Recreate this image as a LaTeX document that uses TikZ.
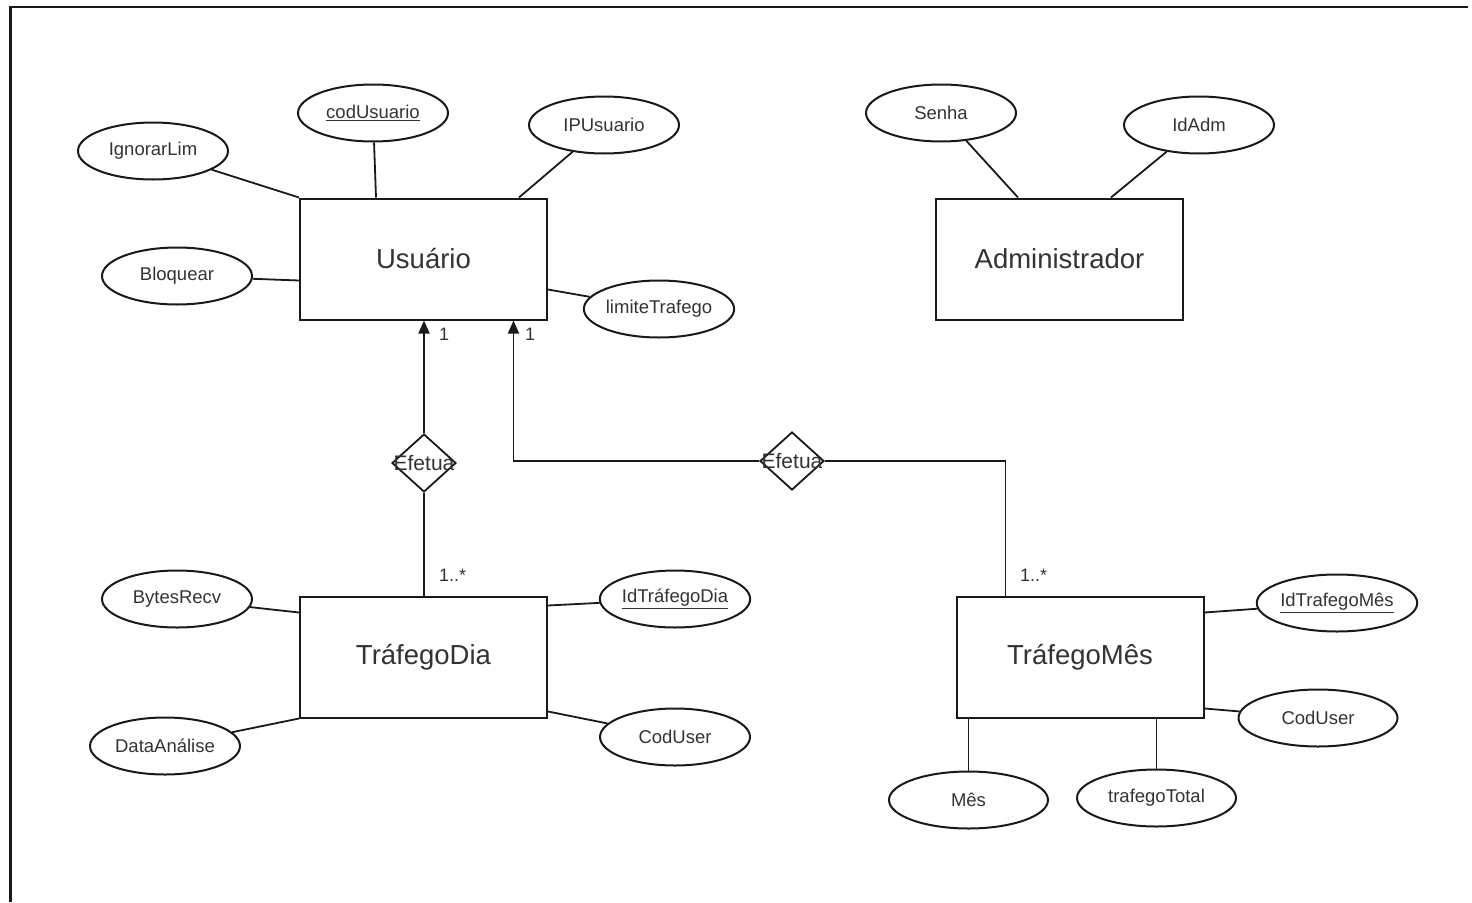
\documentclass[tikz,border=0pt]{standalone}
\usepackage{fontspec}
\setmainfont{Liberation Sans}
\usetikzlibrary{shapes.geometric,arrows.meta}
\definecolor{ink}{gray}{0.1}
\definecolor{txt}{gray}{0.2}
\tikzset{
  entity/.style={draw=ink, line width=2pt, minimum width=247pt, minimum height=121pt,
    inner sep=0pt, text=txt, font=\fontsize{27.5}{30}\selectfont},
  attr/.style={draw=ink, ellipse, line width=2pt, minimum width=150pt, minimum height=57pt,
    inner sep=0pt, text=txt, font=\fontsize{18.5}{20}\selectfont},
  rel/.style={draw=ink, diamond, line width=1.8pt, minimum width=64pt, minimum height=58pt,
    inner sep=0pt},
  reltext/.style={text=txt, font=\fontsize{21}{23}\selectfont},
  link/.style={draw=ink, line width=1.8pt},
  arr/.style={link, -{Triangle[length=13pt,width=11pt]}},
  mult/.style={text=txt, font=\fontsize{18}{20}\selectfont, inner sep=0pt}
}
\begin{document}
\begin{tikzpicture}[x=1pt,y=-1pt]
\useasboundingbox (0,0) rectangle (1472,902);
% sheet frame
\draw[ink, line width=2.2pt] (10.5,902) -- (10.5,7) -- (1468,7);

% entities
\node[entity] (usr) at (423.5,259) {Usuário};
\node[entity] (adm) at (1059.5,259) {Administrador};
\node[entity] (td)  at (423.5,657) {TráfegoDia};
\node[entity] (tm)  at (1080,657) {TráfegoMês};

% attributes of Usuário
\node[attr] (cod) at (373,113) {\underline{codUsuario}};
\node[attr] (ign) at (153,151) {IgnorarLim};
\node[attr] (ipu) at (604,125) {IPUsuario};
\node[attr] (blq) at (177,276) {Bloquear};
\node[attr] (lim) at (659,309) {limiteTrafego};

% attributes of Administrador
\node[attr] (sen) at (941,113) {Senha};
\node[attr] (ida) at (1199,125) {IdAdm};

% attributes of TráfegoDia
\node[attr] (byt) at (177,599) {BytesRecv};
\node[attr] (idt) at (675,599) {\underline{IdTráfegoDia}};
\node[attr] (dat) at (165,746) {DataAnálise};
\node[attr] (cdd) at (675,737) {CodUser};

% attributes of TráfegoMês
\node[attr, minimum width=159pt] (idm) at (1337,603) {\underline{IdTrafegoMês}};
\node[attr, minimum width=159pt] (cdm) at (1318,718) {CodUser};
\node[attr, minimum width=159pt] (mes) at (968.5,800) {Mês};
\node[attr, minimum width=159pt] (tot) at (1156.5,798) {trafegoTotal};

% attribute links
\draw[link] (ign) -- (usr.north west);
\draw[link] (cod) -- ([xshift=77pt]usr.north west);
\draw[link] (ipu) -- ([xshift=220pt]usr.north west);
\draw[link] (blq) -- ([yshift=-83pt]usr.north west);
\draw[link] (lim) -- ([yshift=-92pt]usr.north east);
\draw[link] (sen) -- ([xshift=83pt]adm.north west);
\draw[link] (ida) -- ([xshift=176pt]adm.north west);
\draw[link] (byt) -- ([yshift=-17pt]td.north west);
\draw[link] (idt) -- ([yshift=-10pt]td.north east);
\draw[link] (dat) -- (td.south west);
\draw[link] (cdd) -- ([yshift=7pt]td.south east);
\draw[link] (idm) -- ([yshift=-17pt]tm.north east);
\draw[link] (cdm) -- ([yshift=10pt]tm.south east);
\draw[link] (mes) -- (mes |- tm.south);
\draw[link] (tot) -- (tot |- tm.south);

% relationships
\node[rel, label={[reltext]center:Efetua}] (ef1) at (424,463) {};
\node[rel, label={[reltext]center:Efetua}] (ef2) at (792,461) {};

\draw[arr] (ef1.north) -- (ef1.north |- usr.south);
\draw[link] (ef1.south) -- (ef1.south |- td.north);
\draw[arr] (ef2.west) -| ([xshift=90pt]usr.south);
\draw[link] (ef2.east) -| ([xshift=50pt]tm.north west);

% multiplicities
\node[mult, anchor=north west] (m1) at (439,328) {1};
\node[mult, anchor=north west] (m2) at (525,328) {1};
\node[mult, anchor=north west] (m3) at (439,569) {1..*};
\node[mult, anchor=north west] (m4) at (1020,569) {1..*};
\end{tikzpicture}
\end{document}
